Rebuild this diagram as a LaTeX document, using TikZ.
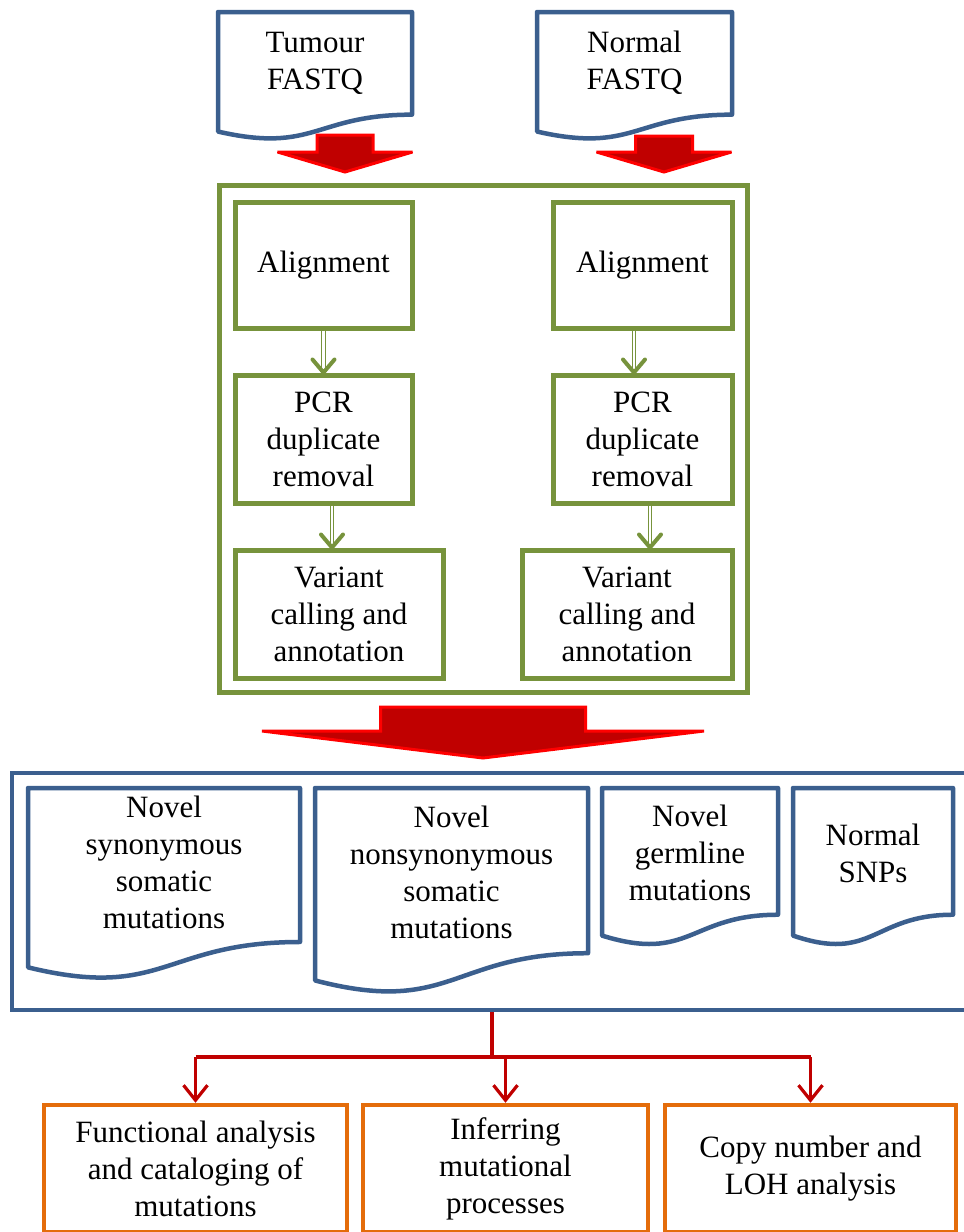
\documentclass[tikz,border=0pt]{standalone}
\usepackage{fontspec}
\setmainfont{Liberation Serif}
\usetikzlibrary{arrows.meta,calc}
\definecolor{docblue}{HTML}{3B5F8E}
\definecolor{boxgreen}{HTML}{77933C}
\definecolor{boxorange}{HTML}{E46C0A}
\definecolor{darkred}{HTML}{C00000}
\definecolor{brightred}{HTML}{FF0000}
% document shape: x0, y0, width, height (y grows downward)
\newcommand\docshape[4]{%
  \draw[docline] (#1,#2) -- ({#1+#3},#2) -- ({#1+#3},{#2+0.802*#4})
    .. controls ({#1+0.5*#3},{#2+0.802*#4}) and ({#1+0.5*#3},{#2+1.1075*#4}) ..
    (#1,{#2+0.934*#4}) -- cycle;}
% block arrow: cx, shaft half width, top, head base, head half width, tip
\newcommand\blockarrow[6]{%
  \filldraw[blockarr] ({#1-#2},#3) -- ({#1+#2},#3) -- ({#1+#2},#4) -- ({#1+#5},#4)
    -- (#1,#6) -- ({#1-#5},#4) -- ({#1-#2},#4) -- cycle;}
% open V tip at a point
\newcommand\vtip[1]{%
  \draw[gtip] ($(#1)+(-11,-13)$) -- (#1) -- ($(#1)+(11,-13)$);}
\begin{document}
\begin{tikzpicture}[x=1pt,y=-1pt,
  txt/.style={align=center, font=\fontsize{31}{37}\selectfont, inner sep=0pt},
  docline/.style={draw=docblue, line width=4.5pt, line join=round, fill=white},
  gbox/.style={draw=boxgreen, line width=5pt, inner sep=0pt, txt},
  bbox/.style={draw=docblue, line width=4.5pt, inner sep=0pt},
  obox/.style={draw=boxorange, line width=4.5pt, inner sep=0pt, txt},
  blockarr/.style={fill=darkred, draw=brightred, line width=3pt, line join=miter, miter limit=4},
  gdbl/.style={draw=boxgreen, double=white, line width=1.3pt, double distance=2.2pt},
  gtip/.style={draw=boxgreen, line width=4pt, line cap=round, line join=round},
  rline/.style={draw=darkred, line width=3.2pt},
  rarrow/.style={rline, -{Straight Barb[length=15pt,width=24pt,line width=3.2pt]}}
]
\useasboundingbox (0,0) rectangle (964,1232);
\clip (0,0) rectangle (964,1232);

% input documents
\docshape{218}{12}{194}{128}
\node[txt] (tum) at (315,63) {Tumour\\FASTQ};
\docshape{537}{12}{195}{128}
\node[txt] (nor) at (634.5,63) {Normal\\FASTQ};

% small block arrows
\blockarrow{345}{28}{135}{152}{67.5}{172}
\blockarrow{664}{28.5}{136}{152}{67.5}{172}

% green pipeline box
\node[draw=boxgreen, line width=5pt, minimum width=528pt, minimum height=507pt, inner sep=0pt] (pipe) at (483,438.5) {};

\node[gbox, minimum width=177pt, minimum height=126pt] (al1) at (323.5,265) {Alignment};
\node[gbox, minimum width=179pt, minimum height=126pt] (al2) at (642.5,265) {Alignment};
\node[gbox, minimum width=177pt, minimum height=128pt] (pcr1) at (323.5,439) {PCR\\duplicate\\removal};
\node[gbox, minimum width=179pt, minimum height=128pt] (pcr2) at (642.5,439) {PCR\\duplicate\\removal};
\node[gbox, minimum width=208pt, minimum height=128pt] (var1) at (339,614) {Variant\\calling and\\annotation};
\node[gbox, minimum width=210pt, minimum height=128pt] (var2) at (627,614) {Variant\\calling and\\annotation};

% double arrows
\coordinate (e1) at (al1.south |- pcr1.north);
\draw[gdbl] (al1.south) -- (e1);
\vtip{e1}
\coordinate (s2) at ([xshift=8.5pt]pcr1.south);
\coordinate (e2) at (s2 |- var1.north);
\draw[gdbl] (s2) -- (e2);
\vtip{e2}
\coordinate (s3) at ([xshift=-8.5pt]al2.south);
\coordinate (e3) at (s3 |- pcr2.north);
\draw[gdbl] (s3) -- (e3);
\vtip{e3}
\coordinate (s4) at ([xshift=7.5pt]pcr2.south);
\coordinate (e4) at (s4 |- var2.north);
\draw[gdbl] (s4) -- (e4);
\vtip{e4}

% big block arrow
\blockarrow{483}{102.5}{707}{731}{221}{758}

% results box
\node[bbox, minimum width=963pt, minimum height=237pt] (res) at (493.5,891.5) {};
\docshape{28}{788}{272}{192}
\node[txt] (d1) at (164,862) {Novel\\synonymous\\somatic\\mutations};
\docshape{315}{788}{273}{206}
\node[txt] (d2) at (451.5,872) {Novel\\nonsynonymous\\somatic\\mutations};
\docshape{602}{788}{176}{158}
\node[txt] (d3) at (690,853) {Novel\\germline\\mutations};
\docshape{793}{788}{160}{158}
\node[txt] (d4) at (873,853) {Normal\\SNPs};

% analysis boxes
\node[obox, minimum width=303pt, minimum height=127pt] (f1) at (195.5,1168.5) {Functional analysis\\and cataloging of\\mutations};
\node[obox, minimum width=285pt, minimum height=127pt] (f2) at (505.5,1168.5) {Inferring\\mutational\\processes};
\node[obox, minimum width=291pt, minimum height=127pt] (f3) at (810.5,1168.5) {Copy number and\\LOH analysis};

% red tree connectors
\coordinate (j) at (492,1057);
\draw[rline] (res.south -| j) -- (j);
\draw[rline] (f1.north |- j) -- (f3.north |- j);
\draw[rarrow] (f1.north |- j) -- (f1.north);
\draw[rarrow] (f2.north |- j) -- (f2.north);
\draw[rarrow] (f3.north |- j) -- (f3.north);
\end{tikzpicture}
\end{document}
